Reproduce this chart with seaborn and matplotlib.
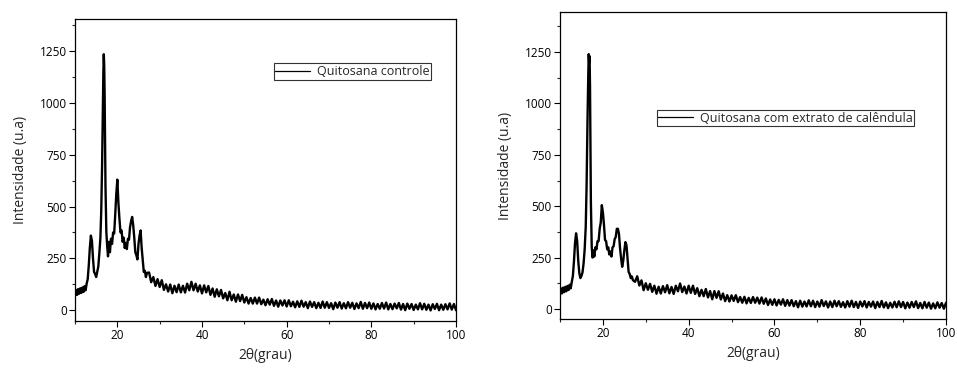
import numpy as np
import pandas as pd
import matplotlib
matplotlib.use("Agg")
import matplotlib.pyplot as plt
from matplotlib.ticker import MultipleLocator
import seaborn as sns

# 2-theta positions shared by both patterns
two_theta = [
    10.0, 10.25, 10.5, 10.75, 11.0, 11.25, 11.5, 11.75, 12.0, 12.25,
    12.5, 12.75, 13.0, 13.25, 13.5, 13.75, 14.0, 14.25, 14.5, 14.75,
    15.0, 15.25, 15.5, 15.75, 16.0,
    16.2, 16.4, 16.6, 16.7, 16.8, 16.9, 17.0, 17.1, 17.2, 17.4, 17.6, 17.8,
    18.0, 18.25, 18.5, 18.75, 19.0, 19.25, 19.5, 19.75, 20.0, 20.25,
    20.5, 20.75, 21.0, 21.25, 21.5, 21.75, 22.0, 22.25, 22.5, 22.75,
    23.0, 23.25, 23.5, 23.75, 24.0, 24.25, 24.5, 24.75, 25.0, 25.25,
    25.5, 25.75, 26.0, 26.25, 26.5, 26.75, 27.0,
    27.5, 28.0, 28.5, 29.0, 29.5, 30.0, 30.5, 31.0, 31.5, 32.0,
    32.5, 33.0, 33.5, 34.0, 34.5, 35.0, 35.5, 36.0, 36.5, 37.0,
    37.5, 38.0, 38.5, 39.0, 39.5, 40.0, 40.5, 41.0, 41.5, 42.0,
    42.5, 43.0, 43.5, 44.0, 44.5, 45.0, 45.5, 46.0, 46.5, 47.0,
    47.5, 48.0, 48.5, 49.0, 49.5, 50.0, 50.5, 51.0, 51.5, 52.0,
    52.5, 53.0, 53.5, 54.0, 54.5, 55.0, 55.5, 56.0, 56.5, 57.0,
    57.5, 58.0, 58.5, 59.0, 59.5, 60.0, 60.5, 61.0, 61.5, 62.0,
    62.5, 63.0, 63.5, 64.0, 64.5, 65.0, 65.5, 66.0, 66.5, 67.0,
    67.5, 68.0, 68.5, 69.0, 69.5, 70.0, 70.5, 71.0, 71.5, 72.0,
    72.5, 73.0, 73.5, 74.0, 74.5, 75.0, 75.5, 76.0, 76.5, 77.0,
    77.5, 78.0, 78.5, 79.0, 79.5, 80.0, 80.5, 81.0, 81.5, 82.0,
    82.5, 83.0, 83.5, 84.0, 84.5, 85.0, 85.5, 86.0, 86.5, 87.0,
    87.5, 88.0, 88.5, 89.0, 89.5, 90.0, 90.5, 91.0, 91.5, 92.0,
    92.5, 93.0, 93.5, 94.0, 94.5, 95.0, 95.5, 96.0, 96.5, 97.0,
    97.5, 98.0, 98.5, 99.0, 99.5, 100.0,
]

# Quitosana controle
int_controle = [
    70, 98, 74, 102, 80, 106, 84, 110, 88, 116,
    96, 128, 150, 215, 300, 360, 335, 250, 185, 175,
    160, 185, 210, 275, 350,
    480, 700, 1000, 1150, 1235, 1180, 1040, 820, 600, 380, 310, 260,
    330, 280, 345, 320, 375, 370, 460, 560, 630, 520,
    440, 375, 385, 330, 350, 300, 325, 295, 345, 340,
    400, 430, 450, 410, 350, 280, 265, 245, 320, 360,
    385, 300, 240, 185, 190, 160, 180,
    182, 135, 160, 117, 150, 112, 145, 98, 125, 90,
    124, 82, 118, 87, 124, 86, 118, 85, 128, 96,
    137, 96, 128, 90, 120, 81, 120, 86, 117, 74,
    105, 65, 101, 67, 98, 57, 83, 48, 89, 48,
    76, 41, 76, 44, 74, 37, 63, 32, 59, 32,
    61, 32, 61, 29, 51, 24, 53, 27, 54, 21,
    47, 17, 47, 23, 48, 18, 48, 19, 41, 14,
    43, 16, 46, 17, 39, 10, 42, 16, 39, 10,
    36, 11, 42, 12, 39, 11, 34, 5, 37, 12,
    39, 8, 34, 9, 39, 12, 36, 6, 33, 10,
    40, 7, 35, 10, 37, 7, 33, 4, 30, 7,
    35, 8, 37, 4, 30, 5, 32, 9, 35, 3,
    30, 0, 32, 7, 30, 1, 27, 4, 34, 4,
    31, 2, 27, -1, 29, 6, 31, 0, 27, 2,
    29, 4, 33, 3, 30, 0,
]

# Quitosana com extrato de calendula
int_calendula = [
    68, 100, 76, 104, 82, 108, 86, 112, 92, 118,
    100, 132, 160, 230, 320, 368, 330, 235, 175, 150,
    160, 178, 222, 290, 400,
    600, 900, 1150, 1240, 1200, 1230, 1080, 800, 520, 300, 250, 285,
    255, 300, 290, 330, 330, 390, 420, 505, 470, 410,
    335, 330, 290, 300, 265, 280, 255, 300, 305, 340,
    350, 390, 390, 365, 295, 245, 205, 235, 285, 325,
    310, 245, 180, 170, 150, 158, 140,
    132, 159, 114, 139, 91, 125, 93, 122, 83, 113,
    74, 108, 75, 111, 81, 116, 76, 107, 73, 113,
    86, 124, 82, 109, 75, 113, 78, 113, 73, 101,
    62, 93, 62, 97, 56, 87, 47, 87, 54, 86,
    46, 75, 38, 67, 36, 66, 39, 67, 33, 58,
    30, 59, 27, 54, 29, 58, 30, 55, 26, 56,
    25, 51, 19, 46, 20, 47, 17, 44, 21, 47,
    15, 43, 16, 43, 13, 38, 8, 40, 11, 36,
    12, 42, 13, 40, 9, 36, 11, 43, 14, 37,
    7, 36, 9, 40, 13, 38, 10, 33, 7, 38,
    11, 40, 9, 34, 5, 36, 12, 38, 7, 34,
    11, 36, 4, 34, 9, 39, 7, 32, 4, 30,
    7, 35, 8, 37, 9, 34, 3, 31, 6, 34,
    9, 37, 4, 29, 3, 34, 6, 31, 1, 27,
    3, 32, 6, 29, 1, 30,
]

legend_labels = ["Quitosana controle", "Quitosana com extrato de calêndula"]
x_ticks = [20, 40, 60, 80, 100]
y_ticks = [0, 250, 500, 750, 1000, 1250]

sns.set_theme(style="ticks")
plt.rcParams["font.family"] = ["Open Sans", "DejaVu Sans"]

fig = plt.figure(figsize=(9.57, 3.68), dpi=100)
W, H = 957, 368
ax1 = fig.add_axes([75 / W, 1 - 321 / H, 381 / W, 302 / H])
ax2 = fig.add_axes([560 / W, 1 - 319 / H, 386 / W, 307 / H])

panels = [
    (ax1, int_controle, legend_labels[0], (-52, 1405), (0.521, 0.853)),
    (ax2, int_calendula, legend_labels[1], (-49, 1445), (0.250, 0.682)),
]

for ax, values, label, ylim, anchor in panels:
    df = pd.DataFrame({"two_theta": two_theta, "intensity": values})
    sns.lineplot(data=df, x="two_theta", y="intensity", ax=ax, color="black",
                 linewidth=1.7, label=label, estimator=None, sort=False)
    ax.set_xlim(10, 100)
    ax.set_ylim(*ylim)
    ax.set_xticks(x_ticks)
    ax.set_yticks(y_ticks)
    ax.xaxis.set_minor_locator(MultipleLocator(10))
    ax.yaxis.set_minor_locator(MultipleLocator(125))
    ax.tick_params(which="major", direction="out", length=4, width=0.8,
                   labelsize=8.5, colors="black", pad=2)
    ax.tick_params(which="minor", direction="out", length=2.5, width=0.8)
    for sp in ax.spines.values():
        sp.set_visible(True)
        sp.set_linewidth(0.9)
        sp.set_color("black")
    ax.set_xlabel("2θ(grau)", fontsize=10, labelpad=4)
    ax.set_ylabel("Intensidade (u.a)", fontsize=10, labelpad=8)
    leg = ax.legend(loc="upper left", bbox_to_anchor=anchor, frameon=True,
                    fancybox=False, framealpha=1, edgecolor="#333333",
                    fontsize=9, handlelength=2.8, handletextpad=0.5,
                    borderpad=0.15, borderaxespad=0)
    leg.get_frame().set_linewidth(0.8)
    for line in leg.get_lines():
        line.set_linewidth(0.9)

fig.savefig("out.png", dpi=100)
